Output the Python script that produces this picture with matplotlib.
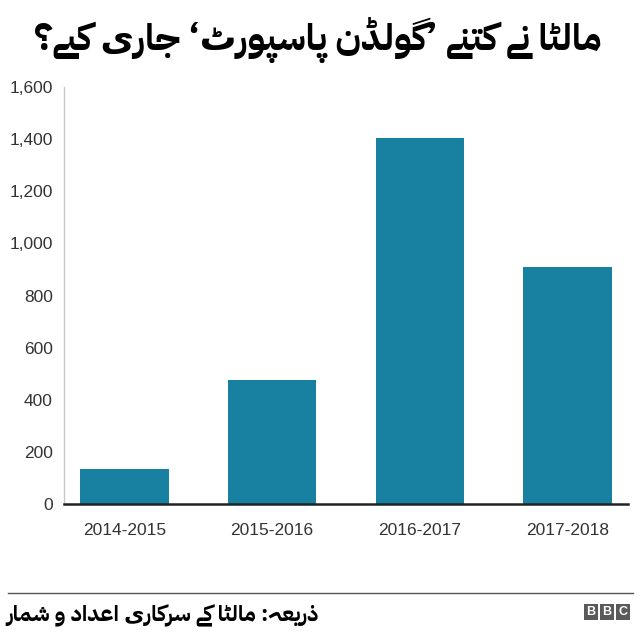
import matplotlib
matplotlib.use("Agg")
import matplotlib.pyplot as plt
from matplotlib.patches import Rectangle

# ---------------- data ----------------
categories = ["2014-2015", "2015-2016", "2016-2017", "2017-2018"]
values = [134, 476, 1406, 909]
yticks = [0, 200, 400, 600, 800, 1000, 1200, 1400, 1600]
title_text = "مالٹا نے کتنے ’گولڈن پاسپورٹ‘ جاری کیے؟"
source_text = "ذریعہ: مالٹا کے سرکاری اعداد و شمار"

URDU_FONTS = ["IBM Plex Sans Arabic", "Zain", "DejaVu Sans"]

# ------------- minimal Arabic/Urdu shaping -------------
# forms: (isolated, final, initial, medial); right-joining letters have only 2
FORMS = {
    "ا": (0xFE8D, 0xFE8E), "د": (0xFEA9, 0xFEAA), "ذ": (0xFEAB, 0xFEAC),
    "ر": (0xFEAD, 0xFEAE), "و": (0xFEED, 0xFEEE), "ڈ": (0xFB88, 0xFB89),
    "ے": (0xFBAE, 0xFBAF),
    "ت": (0xFE95, 0xFE96, 0xFE97, 0xFE98), "ج": (0xFE9D, 0xFE9E, 0xFE9F, 0xFEA0),
    "س": (0xFEB1, 0xFEB2, 0xFEB3, 0xFEB4), "ش": (0xFEB5, 0xFEB6, 0xFEB7, 0xFEB8),
    "ع": (0xFEC9, 0xFECA, 0xFECB, 0xFECC), "ل": (0xFEDD, 0xFEDE, 0xFEDF, 0xFEE0),
    "م": (0xFEE1, 0xFEE2, 0xFEE3, 0xFEE4), "ن": (0xFEE5, 0xFEE6, 0xFEE7, 0xFEE8),
    "ٹ": (0xFB66, 0xFB67, 0xFB68, 0xFB69), "پ": (0xFB56, 0xFB57, 0xFB58, 0xFB59),
    "ک": (0xFB8E, 0xFB8F, 0xFB90, 0xFB91), "گ": (0xFB92, 0xFB93, 0xFB94, 0xFB95),
    "ہ": (0xFBA6, 0xFBA7, 0xFBA8, 0xFBA9), "ی": (0xFBFC, 0xFBFD, 0xFBFE, 0xFBFF),
}


def shape(s):
    out = []
    n = len(s)
    for i, c in enumerate(s):
        f = FORMS.get(c)
        if f is None:
            out.append(c)
            continue
        prev = s[i - 1] if i > 0 else None
        nxt = s[i + 1] if i < n - 1 else None
        jp = prev is not None and prev in FORMS and len(FORMS[prev]) == 4
        jn = len(f) == 4 and nxt is not None and nxt in FORMS
        if jp and jn:
            g = f[3]
        elif jp:
            g = f[1]
        elif jn:
            g = f[2]
        else:
            g = f[0]
        out.append(chr(g))
    return "".join(out)[::-1]


# ---------------- figure ----------------
W, H = 640, 635
fig = plt.figure(figsize=(W / 100, H / 100), dpi=100)
fig.patch.set_facecolor("white")

left, right, bottom, top = 64, 628, 504, 87
ax = fig.add_axes([left / W, (H - bottom) / H, (right - left) / W, (bottom - top) / H])

x = list(range(len(categories)))
ax.bar(x, values, width=0.6, color="#1880a1", zorder=2)
ax.set_xlim(-0.408, 3.408)
ax.set_ylim(0, 1600)
ax.set_yticks(yticks)
ax.set_yticklabels([f"{v:,}" for v in yticks])
ax.set_xticks(x)
ax.set_xticklabels(categories)
for lab in ax.get_yticklabels() + ax.get_xticklabels():
    lab.set_fontfamily("Liberation Sans")
    lab.set_fontsize(12.5)
    lab.set_color("#333333")
ax.tick_params(axis="both", length=0)
ax.tick_params(axis="y", pad=8)
ax.tick_params(axis="x", pad=14)
for sp in ["top", "right"]:
    ax.spines[sp].set_visible(False)
ax.spines["left"].set_color("#c8c8c8")
ax.spines["left"].set_linewidth(1)
ax.spines["bottom"].set_color("#222222")
ax.spines["bottom"].set_linewidth(1.8)
ax.spines["bottom"].set_zorder(3)

# title
fig.text(602 / W, 1 - 40 / H, shape(title_text), ha="right", va="center",
         fontsize=26.5, fontweight="bold", family=URDU_FONTS, color="black")

# footer line
fig.add_artist(plt.Line2D([8 / W, 633 / W], [1 - 593 / H, 1 - 593 / H],
                          color="#555555", linewidth=1))
fig.text(6 / W, 1 - 616 / H, shape(source_text), ha="left", va="center",
         fontsize=16, fontweight="bold", family=URDU_FONTS, color="black")

# BBC logo
bx = [584, 600, 616]
for i, letter in enumerate("BBC"):
    fig.add_artist(Rectangle((bx[i] / W, 1 - 620 / H), 14 / W, 16 / H,
                             transform=fig.transFigure, facecolor="#5a5a5a",
                             edgecolor="none"))
    fig.text((bx[i] + 7) / W, 1 - 612 / H, letter, ha="center", va="center",
             fontsize=9, fontweight="bold", family="Liberation Sans", color="white")

fig.savefig("out.png", dpi=100, facecolor="white")
